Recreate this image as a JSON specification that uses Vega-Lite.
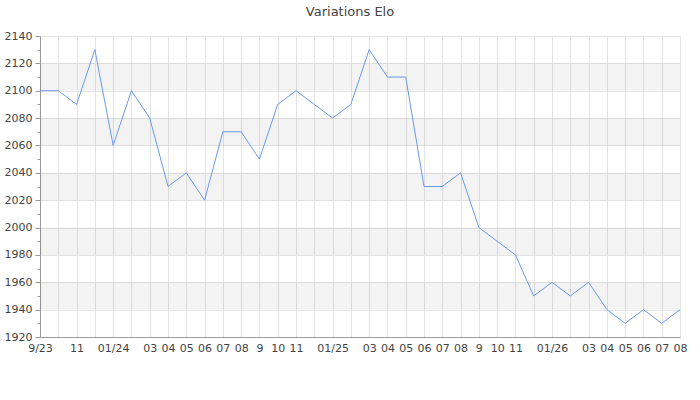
{
  "$schema": "https://vega.github.io/schema/vega-lite/v6.json",
  "autosize": {"type": "none"},
  "padding": {"left": 40, "top": 36, "right": 20, "bottom": 63},
  "width": 640,
  "height": 301,
  "background": "white",
  "config": {
    "view": {"stroke": null},
    "font": "DejaVu Sans"
  },
  "title": {
    "text": "Variations Elo",
    "font": "DejaVu Sans",
    "fontSize": 13,
    "fontWeight": "normal",
    "color": "#444",
    "anchor": "middle",
    "baseline": "alphabetic",
    "offset": 1,
    "dx": -10
  },
  "datasets": {
    "elo": [
      {"month": "2023-09", "elo": 2100},
      {"month": "2023-10", "elo": 2100},
      {"month": "2023-11", "elo": 2090},
      {"month": "2023-12", "elo": 2130},
      {"month": "2024-01", "elo": 2060},
      {"month": "2024-02", "elo": 2100},
      {"month": "2024-03", "elo": 2080},
      {"month": "2024-04", "elo": 2030},
      {"month": "2024-05", "elo": 2040},
      {"month": "2024-06", "elo": 2020},
      {"month": "2024-07", "elo": 2070},
      {"month": "2024-08", "elo": 2070},
      {"month": "2024-09", "elo": 2050},
      {"month": "2024-10", "elo": 2090},
      {"month": "2024-11", "elo": 2100},
      {"month": "2024-12", "elo": 2090},
      {"month": "2025-01", "elo": 2080},
      {"month": "2025-02", "elo": 2090},
      {"month": "2025-03", "elo": 2130},
      {"month": "2025-04", "elo": 2110},
      {"month": "2025-05", "elo": 2110},
      {"month": "2025-06", "elo": 2030},
      {"month": "2025-07", "elo": 2030},
      {"month": "2025-08", "elo": 2040},
      {"month": "2025-09", "elo": 2000},
      {"month": "2025-10", "elo": 1990},
      {"month": "2025-11", "elo": 1980},
      {"month": "2025-12", "elo": 1950},
      {"month": "2026-01", "elo": 1960},
      {"month": "2026-02", "elo": 1950},
      {"month": "2026-03", "elo": 1960},
      {"month": "2026-04", "elo": 1940},
      {"month": "2026-05", "elo": 1930},
      {"month": "2026-06", "elo": 1940},
      {"month": "2026-07", "elo": 1930},
      {"month": "2026-08", "elo": 1940}
    ],
    "bands": [
      {"lo": 2100, "hi": 2120},
      {"lo": 2060, "hi": 2080},
      {"lo": 2020, "hi": 2040},
      {"lo": 1980, "hi": 2000},
      {"lo": 1940, "hi": 1960}
    ]
  },
  "layer": [
    {
      "data": {"name": "bands"},
      "mark": {"type": "rect", "fill": "#000", "fillOpacity": 0.048},
      "encoding": {
        "y": {
          "field": "lo",
          "type": "quantitative",
          "scale": {"domain": [1920, 2140], "nice": false, "zero": false},
          "axis": {
            "title": null,
            "values": [1920, 1930, 1940, 1950, 1960, 1970, 1980, 1990, 2000, 2010, 2020, 2030, 2040, 2050, 2060, 2070, 2080, 2090, 2100, 2110, 2120, 2130, 2140],
            "format": "d",
            "labelOverlap": false,
            "labelExpr": "datum.value % 20 == 0 ? datum.label : ''",
            "labelFontSize": 11,
            "labelColor": "#444",
            "labelFont": "DejaVu Sans",
            "labelPadding": 3,
            "domainColor": "#999",
            "tickColor": "#999",
            "tickSize": {"condition": {"test": "datum.value % 20 == 0", "value": 5}, "value": 3},
            "grid": true,
            "gridColor": {"condition": {"test": "datum.value % 20 == 0", "value": "#e4e4e4"}, "value": "transparent"}
          }
        },
        "y2": {"field": "hi"}
      }
    },
    {
      "data": {"name": "elo"},
      "mark": {"type": "line", "color": "#6a9af0", "strokeWidth": 1, "interpolate": "linear"},
      "encoding": {
        "x": {
          "field": "month",
          "type": "ordinal",
          "sort": null,
          "scale": {"type": "point", "padding": 0},
          "axis": {
            "title": null,
            "labelAngle": 0,
            "labelOverlap": false,
            "ticks": false,
            "labelPadding": 5,
            "labelFontSize": 11,
            "labelColor": "#444",
            "labelFont": "DejaVu Sans",
            "domainColor": "#999",
            "grid": true,
            "gridColor": "#e4e4e4",
            "labelExpr": "indexof(['2023-10','2023-12','2024-02','2024-12','2025-02','2025-12','2026-02'], datum.value) >= 0 ? '' : datum.value == '2023-09' ? '9/23' : slice(datum.value, 5) == '01' ? '01/' + slice(datum.value, 2, 4) : toNumber(slice(datum.value, 5)) >= 9 ? toNumber(slice(datum.value, 5)) + '' : slice(datum.value, 5)"
          }
        },
        "y": {
          "field": "elo",
          "type": "quantitative",
          "scale": {"domain": [1920, 2140], "nice": false, "zero": false},
          "axis": {
            "title": null,
            "values": [1920, 1930, 1940, 1950, 1960, 1970, 1980, 1990, 2000, 2010, 2020, 2030, 2040, 2050, 2060, 2070, 2080, 2090, 2100, 2110, 2120, 2130, 2140],
            "format": "d",
            "labelOverlap": false,
            "labelExpr": "datum.value % 20 == 0 ? datum.label : ''",
            "labelFontSize": 11,
            "labelColor": "#444",
            "labelFont": "DejaVu Sans",
            "labelPadding": 3,
            "domainColor": "#999",
            "tickColor": "#999",
            "tickSize": {"condition": {"test": "datum.value % 20 == 0", "value": 5}, "value": 3},
            "grid": true,
            "gridColor": {"condition": {"test": "datum.value % 20 == 0", "value": "#e4e4e4"}, "value": "transparent"}
          }
        }
      }
    }
  ]
}
